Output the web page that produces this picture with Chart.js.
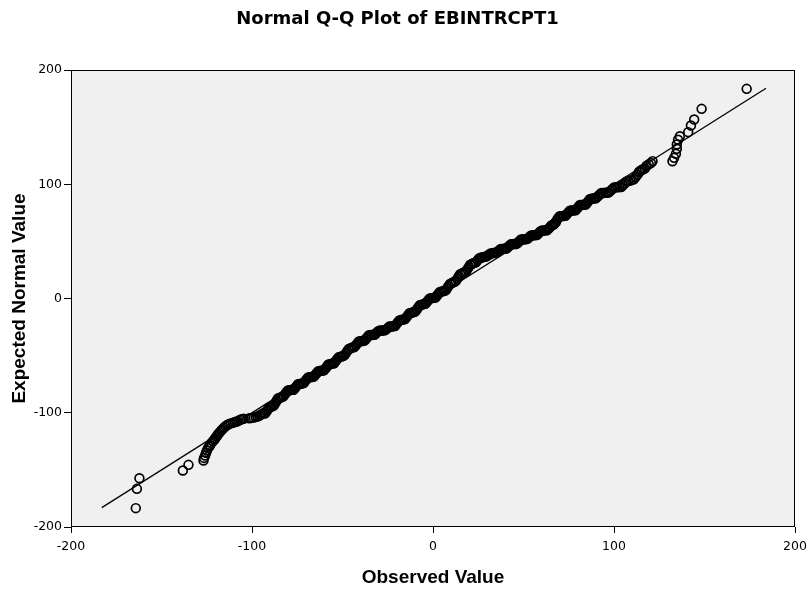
<!DOCTYPE html>
<html>
<head>
<meta charset="utf-8">
<title>Normal Q-Q Plot of EBINTRCPT1</title>
<script src="https://cdn.jsdelivr.net/npm/chart.js@4/dist/chart.umd.min.js"></script>
<style>
  html, body { margin: 0; padding: 0; background: #ffffff; }
  #wrap { width: 807px; height: 593px; }
</style>
</head>
<body>
<div id="wrap"><canvas id="qq" width="807" height="593"></canvas></div>
<script>
// Observed EB intercepts (sorted) and their expected normal quantiles.
const observedValues = [
  -164.2,-163.6,-162.2,-138.2,-135.1,
  -126.8,-126.5,-125.9,-125.4,-124.9,-124.3,-123.6,-123.1,-122.4,-121.6,
  -120.8,-120.3,-119.6,-119,-118.5,-117.8,-117,-116.2,-115.5,-114.6,
  -113.8,-112.9,-111.8,-110.6,-109.4,-108.3,-107.4,-106.5,-105.6,-104.6,
  -101.5,-100.3,-99.1,-98,-97,-96,-95.2,-94.4,-93.6,
  -92.8,-92,-91.3,-90.6,-89.9,-89.2,-88.5,-87.8,-87.1,-86.4,
  -85.7,-85,-84.2,-83.4,-82.6,-81.8,-81,-80.2,-79.4,-78.6,
  -77.8,-77,-76.2,-75.4,-74.6,-73.8,-73,-72.2,-71.4,-70.6,
  -69.8,-69,-68.2,-67.4,-66.6,-65.8,-65,-64.2,-63.4,-62.6,
  -61.8,-61,-60.2,-59.4,-58.6,-57.8,-57,-56.2,-55.4,-54.6,
  -53.8,-53,-52.2,-51.4,-50.6,-49.8,-49,-48.2,-47.4,-46.6,
  -45.8,-45,-44.2,-43.4,-42.6,-41.8,-41,-40.2,-39.4,-38.6,
  -37.8,-37,-36.2,-35.4,-34.6,-33.8,-33,-32.2,-31.4,-30.6,
  -29.8,-29,-28.2,-27.4,-26.6,-25.8,-25,-24.2,-23.4,-22.6,
  -21.8,-21,-20.2,-19.4,-18.6,-17.8,-17,-16.2,-15.4,-14.6,
  -13.8,-13,-12.2,-11.4,-10.6,-9.8,-9,-8.2,-7.4,-6.6,
  -5.8,-5,-4.2,-3.4,-2.6,-1.8,-1,-0.2,0.6,1.4,
  2.2,3,3.8,4.6,5.4,6.2,7,7.8,8.6,9.4,
  10.2,11,11.8,12.6,13.4,14.2,15,15.8,16.6,17.4,
  18.2,19,19.8,20.6,21.4,22.2,23,23.8,24.6,25.4,
  26.2,27,27.8,28.6,29.4,30.2,31,31.8,32.6,33.4,
  34.2,35,35.8,36.6,37.4,38.2,39,39.8,40.6,41.4,
  42.2,43,43.8,44.6,45.4,46.2,47,47.8,48.6,49.4,
  50.2,51,51.8,52.6,53.4,54.2,55,55.8,56.6,57.4,
  58.2,59,59.8,60.6,61.4,62.2,63,63.8,64.6,65.4,
  66.2,66.8,67.3,67.8,68.4,69.2,70,70.8,71.6,72.4,
  73.2,74,74.8,75.6,76.4,77.2,78,78.8,79.6,80.4,
  81.2,82,82.8,83.6,84.4,85.2,86,86.8,87.6,88.4,
  89.2,90,91,92,93,94,95,96,97,98,
  99,100,101,102,103,104,105,106,107,108,
  109,110,111,112,113,113.8,114.5,115.2,116,117,
  118,119.2,120.4,121.3,
  132.3,133.2,134.2,134.7,134.7,135.4,136.4,141,142.5,144.3,148.4,173.3
];
const expectedValues = [
  -183.5,-166.6,-157.3,-150.5,-145.6,
  -141.8,-139.5,-137.4,-135,-133,-131,-129.5,-128.2,-126.5,-125,
  -123.6,-122.3,-120.8,-119.5,-118.3,-117,-115.6,-114.3,-113,-111.8,
  -110.8,-110,-109.3,-108.8,-108.2,-107.6,-106.9,-106.2,-105.6,-105.2,
  -104.8,-104.5,-104.1,-103.7,-103.3,-102.6,-101.8,-101,-100.2,
  -100.6,-98.9,-97.2,-95.4,-95.0,-94.6,-94.1,-93.5,-91.5,-89.5,
  -87.6,-87.1,-86.6,-86.1,-85.6,-83.8,-82.1,-80.5,-80.3,-80.1,
  -79.9,-79.8,-78.3,-76.7,-75.1,-74.9,-74.6,-74.3,-74.0,-72.3,
  -70.7,-69.1,-68.9,-68.8,-68.6,-68.4,-66.8,-65.2,-63.6,-63.4,
  -63.2,-63.0,-62.8,-61.2,-59.5,-57.8,-57.5,-57.2,-56.9,-56.6,
  -54.9,-53.2,-51.5,-51.1,-50.7,-50.3,-49.8,-48.0,-46.1,-44.3,
  -43.7,-43.2,-42.8,-42.5,-40.9,-39.3,-37.7,-37.5,-37.3,-37.1,
  -36.9,-35.3,-33.7,-32.1,-32.0,-31.9,-31.8,-31.8,-30.4,-29.0,
  -28.2,-28.1,-28.0,-27.9,-27.8,-27.0,-25.9,-24.6,-24.5,-24.4,
  -24.2,-24.0,-22.4,-20.8,-19.2,-18.9,-18.6,-18.3,-18.0,-16.3,
  -14.6,-12.9,-12.6,-12.2,-11.8,-11.4,-9.6,-7.8,-6.0,-5.6,
  -5.2,-4.9,-4.7,-3.1,-1.5,0.1,0.3,0.5,0.7,0.9,
  2.5,4.1,5.7,6.0,6.3,6.7,7.1,9.0,10.9,12.8,
  13.4,14.0,14.6,15.2,17.2,19.2,21.2,21.8,22.4,23.0,
  23.6,25.6,27.6,29.6,30.2,30.8,31.3,31.7,33.4,35.0,
  35.6,35.9,36.2,36.5,36.8,37.5,38.5,39.4,39.6,39.8,
  40.0,40.1,40.9,42.2,43.3,43.4,43.5,43.6,43.7,44.8,
  46.2,47.4,47.5,47.6,47.7,47.8,49.0,50.4,51.6,51.7,
  51.8,51.9,52.0,52.7,54.0,55.2,55.3,55.4,55.5,55.6,
  56.8,58.2,59.4,59.5,59.6,59.7,59.8,61.0,62.4,64.0,
  64.4,65.0,65.8,66.6,68.6,70.4,72.0,72.1,72.2,72.3,
  72.4,73.9,75.4,76.9,77.0,77.1,77.2,77.3,78.8,80.3,
  81.8,81.9,82.0,82.1,82.3,83.9,85.5,87.1,87.3,87.5,
  87.7,87.8,89.3,90.8,92.3,92.4,92.5,92.6,92.7,94.2,
  95.7,97.2,97.3,97.4,97.5,97.6,99.2,100.8,102.5,102.9,
  103.3,103.8,104.3,106.3,108.4,110.7,111.6,112.5,113.2,113.8,
  116.2,117.4,118.6,120.2,
  120.2,123.1,126.6,131,134.8,138.9,142,145.6,151.4,156.7,166,183.5
];

// Reference line (expected = observed) end points.
const lineObserved = [-183, 184];
const lineExpected = [-183, 184];

// Axis tick values, shared by both axes.
const axisTicks = [-200, -100, 0, 100, 200];

const qqPoints = observedValues.map((v, i) => ({ x: v, y: expectedValues[i] }));
const linePoints = lineObserved.map((v, i) => ({ x: v, y: lineExpected[i] }));

// Grey plot panel with a thin black frame.
const plotFrame = {
  id: 'plotFrame',
  beforeDatasetsDraw(chart) {
    const { ctx, chartArea: a } = chart;
    ctx.save();
    ctx.fillStyle = '#f0f0f0';
    ctx.fillRect(a.left, a.top, a.right - a.left, a.bottom - a.top);
    ctx.restore();
  },
  afterDraw(chart) {
    const { ctx, chartArea: a } = chart;
    ctx.save();
    ctx.strokeStyle = '#000';
    ctx.lineWidth = 1;
    const l = Math.round(a.left) + 0.5, t = Math.round(a.top) + 0.5;
    const r = Math.round(a.right) - 0.5, b = Math.round(a.bottom) - 0.5;
    ctx.strokeRect(l, t, r - l, b - t);
    ctx.restore();
  }
};

const tickFont = { family: 'DejaVu Sans', size: 12.5 };
const axisTitleFont = { family: 'Liberation Sans', size: 19, weight: 'bold' };

new Chart(document.getElementById('qq'), {
  type: 'scatter',
  data: {
    datasets: [
      {
        type: 'line',
        data: linePoints,
        borderColor: '#000',
        borderWidth: 1.3,
        pointRadius: 0,
        fill: false,
        order: 0
      },
      {
        data: qqPoints,
        pointStyle: 'circle',
        pointRadius: 4.4,
        borderWidth: 1.7,
        borderColor: '#000',
        backgroundColor: 'rgba(0,0,0,0)',
        order: 1
      }
    ]
  },
  options: {
    responsive: false,
    animation: false,
    devicePixelRatio: 1,
    layout: { padding: { left: 0, right: 12, top: 0, bottom: 0 } },
    plugins: {
      legend: { display: false },
      tooltip: { enabled: false },
      title: {
        display: true,
        text: 'Normal Q-Q Plot of EBINTRCPT1',
        color: '#000',
        font: { family: 'DejaVu Sans', size: 18, weight: 'bold' },
        padding: { top: 9, bottom: 39.4 }
      }
    },
    scales: {
      x: {
        type: 'linear',
        position: 'bottom',
        min: -200,
        max: 200,
        afterBuildTicks(s) { s.ticks = axisTicks.map(v => ({ value: v })); },
        afterFit(s) { s.height = 66; s.paddingLeft = 12; s.paddingRight = 12; },
        ticks: {
          color: '#000',
          font: tickFont,
          padding: 6,
          maxRotation: 0,
          autoSkip: false,
          callback: v => String(v)
        },
        grid: { drawOnChartArea: false, drawTicks: true, tickLength: 6, color: '#000' },
        border: { display: false },
        title: {
          display: true,
          text: 'Observed Value',
          color: '#000',
          font: axisTitleFont,
          padding: { top: 0, bottom: 4 }
        }
      },
      y: {
        type: 'linear',
        position: 'left',
        min: -200,
        max: 200,
        afterBuildTicks(s) { s.ticks = axisTicks.map(v => ({ value: v })); },
        afterFit(s) { s.width = 71; },
        ticks: {
          color: '#000',
          font: tickFont,
          padding: 2,
          autoSkip: false,
          callback: v => String(v)
        },
        grid: { drawOnChartArea: false, drawTicks: true, tickLength: 7, color: '#000' },
        border: { display: false },
        title: {
          display: true,
          text: 'Expected Normal Value',
          color: '#000',
          font: axisTitleFont,
          padding: { top: 8, bottom: 0 }
        }
      }
    }
  },
  plugins: [plotFrame]
});
</script>
</body>
</html>
